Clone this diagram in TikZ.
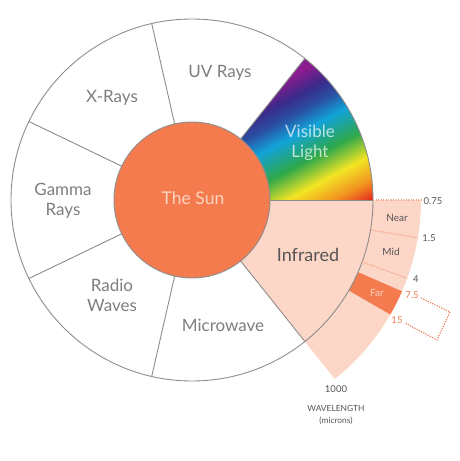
\documentclass[tikz,border=0pt]{standalone}
\usepackage{fontspec}
\setmainfont{Lato}
\definecolor{vred}{HTML}{E3251E}
\definecolor{vorange}{HTML}{F29420}
\definecolor{vyellow}{HTML}{F2E524}
\definecolor{vgreen}{HTML}{2EA84A}
\definecolor{vcyan}{HTML}{12A2D9}
\definecolor{vblue}{HTML}{2A4FA2}
\definecolor{vindigo}{HTML}{3A2A8A}
\definecolor{vpurple}{HTML}{8B1B8E}
\definecolor{sunorange}{HTML}{F47B4E}
\definecolor{irpink}{HTML}{FCD6C6}
\definecolor{linegrey}{HTML}{8C8C8C}
\definecolor{textgrey}{HTML}{7E7E7E}
\definecolor{darkgrey}{HTML}{555555}
\definecolor{dotpink}{HTML}{EFA286}
\definecolor{dotorange}{HTML}{EE7A55}
\definecolor{sunlabel}{HTML}{FBD3C1}
\pgfdeclareverticalshading{rainbow}{100bp}{color(0bp)=(vred); color(25bp)=(vred); color(31bp)=(vorange); color(38bp)=(vyellow); color(46bp)=(vgreen); color(55bp)=(vcyan); color(61bp)=(vblue); color(66bp)=(vindigo); color(72bp)=(vpurple); color(100bp)=(vpurple)}
\tikzset{
  edge line/.style={draw=linegrey, line width=0.9pt},
  band dots/.style={draw=dotpink, line width=1.1pt, dash pattern=on 1.2pt off 1.3pt},
  box dots/.style={draw=dotorange, line width=1.1pt, dash pattern=on 1.2pt off 1.3pt},
  bandlabel/.style={text=textgrey, font=\fontsize{17}{20}\selectfont, align=center},
  smalllabel/.style={text=darkgrey, font=\fontsize{9.5}{11}\selectfont},
  tinylabel/.style={text=darkgrey, font=\fontsize{8.4}{9}\selectfont},
}
\begin{document}
\begin{tikzpicture}[x=1pt,y=1pt]
\useasboundingbox (-192,-261) rectangle (267,200);
\def\Rr{181}
\def\Rs{78}
\def\Rb{229}
% extended infrared band
\fill[irpink] (0:\Rr) -- (0:\Rb) arc[start angle=0, end angle=-51.43, radius=\Rb]
  -- (-51.43:\Rr) arc[start angle=-51.43, end angle=0, radius=\Rr] -- cycle;
% far band
\fill[sunorange] (-23.5:\Rr) -- (-23.5:\Rb) arc[start angle=-23.5, end angle=-30, radius=\Rb]
  -- (-30:\Rr) arc[start angle=-30, end angle=-23.5, radius=\Rr] -- cycle;
% infrared sector
\fill[irpink] (0,0) -- (0:\Rr) arc[start angle=0, end angle=-51.43, radius=\Rr] -- cycle;
% visible light sector
\begin{scope}
  \clip (0,0) -- (0:\Rr) arc[start angle=0, end angle=51.43, radius=\Rr] -- cycle;
  \begin{scope}[transform canvas={rotate=28}]
    \shade[shading=rainbow] (-260,-85) rectangle (260,72);
  \end{scope}
\end{scope}
% outlines
\draw[edge line] (0,0) circle[radius=\Rr];
\foreach \a in {0,51.43,102.86,154.29,205.71,257.14,308.57}
  \draw[edge line] (\a:\Rs) -- (\a:\Rr);
% sun
\filldraw[fill=sunorange, edge line] (0,0) circle[radius=\Rs];
% band dotted dividers
\draw[band dots] (0:\Rr) -- (0:\Rb);
\draw[band dots] (-9.5:\Rr) -- (-9.5:\Rb);
\draw[band dots] (-20:\Rr) -- (-20:\Rb);
% dotted zoom box
\coordinate (bxA) at (229,-98);
\coordinate (bxB) at (258,-112);
\coordinate (bxC) at (245,-140);
\coordinate (bxD) at (213,-123);
\draw[box dots] (bxA) -- (bxB) -- (bxC) -- (bxD);
% labels
\node[text=sunlabel, font=\fontsize{17.5}{20}\selectfont] (sun) at (1,2) {The Sun};
\node[bandlabel] (uv) at (28,127) {UV Rays};
\node[bandlabel] (xr) at (-80,102) {X-Rays};
\node[bandlabel] (gr) at (-129,-1) {Gamma\\Rays};
\node[bandlabel] (rw) at (-80,-95) {Radio\\Waves};
\node[bandlabel] (mw) at (31,-125) {Microwave};
\node[bandlabel, text=white, text opacity=0.7] (vl) at (118,57) {Visible\\Light};
\node[text=darkgrey, font=\fontsize{18}{20}\selectfont] (ir) at (116,-55) {Infrared};
\node[smalllabel, font=\fontsize{10}{11}\selectfont] (near) at (205,-18) {Near};
\node[smalllabel, font=\fontsize{10}{11}\selectfont] (mid) at (199,-52) {Mid};
\node[text=sunlabel, font=\fontsize{10}{11}\selectfont] (far) at (185,-93) {Far};
\node[smalllabel] (l075) at (241,-1) {0.75};
\node[smalllabel] (l15) at (237,-38) {1.5};
\node[smalllabel] (l4) at (224,-79) {4};
\node[smalllabel, text=dotorange] (l75) at (220,-95) {7.5};
\node[smalllabel, text=dotorange] (l150) at (205,-120) {15};
\node[smalllabel] (l1000) at (144,-189) {1000};
\node[tinylabel] (wl) at (144,-208) {WAVELENGTH};
\node[tinylabel] (mic) at (144,-221) {(microns)};
\end{tikzpicture}
\end{document}
